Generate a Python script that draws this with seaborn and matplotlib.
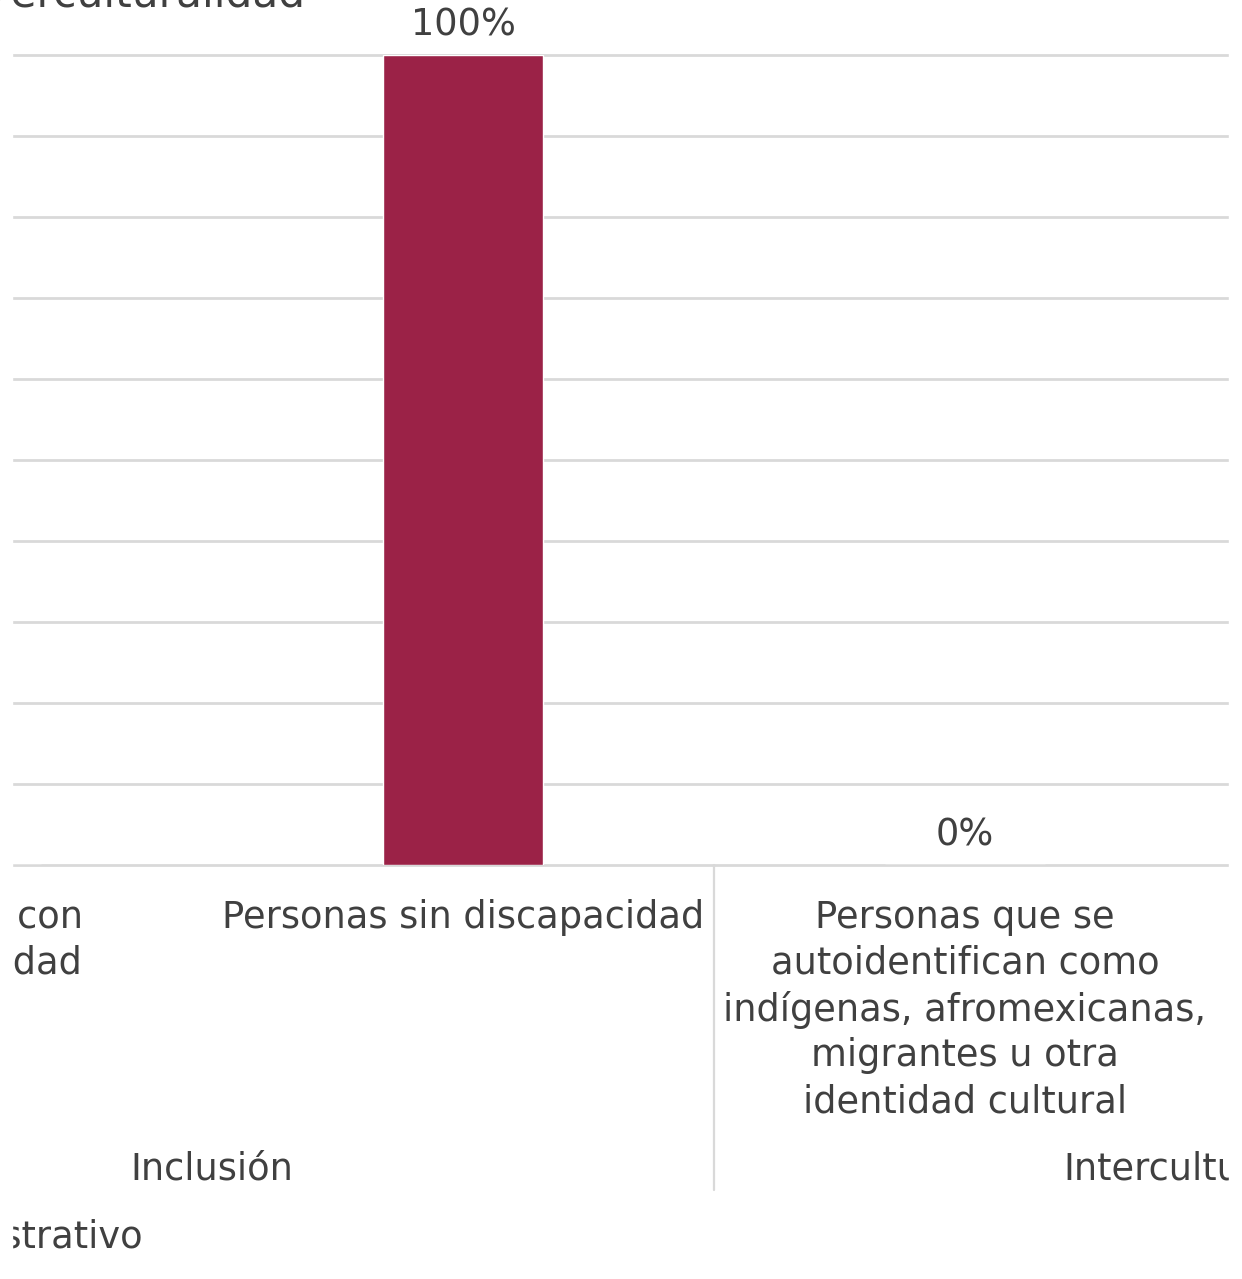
import numpy as np
import pandas as pd
import matplotlib
matplotlib.use("Agg")
import matplotlib.pyplot as plt
from matplotlib.patches import Rectangle
import seaborn as sns

# data
categories = ["Personas con discapacidad", "Personas sin discapacidad",
              "Personas que se autoidentifican", "Personas que no se autoidentifican"]
cat_labels = ["Personas con\ndiscapacidad",
              "Personas sin discapacidad",
              "Personas que se\nautoidentifican como\nindígenas, afromexicanas,\nmigrantes u otra\nidentidad cultural",
              "Personas que no se\nautoidentifican como\nindígenas,\nafromexicanas,\nmigrantes u otra\nidentidad cultural"]
values = [0, 100, 0, 100]
groups = ["Inclusión", "Interculturalidad"]
group_pos = [0.5, 2.5]
title = "Inclusión e interculturalidad"
outer_label = "Administrativo"

BAR = "#9b2247"
TXT = "#404040"
GRID = "#d9d9d9"

sns.set_style("white")
plt.rcParams["font.family"] = ["DejaVu Sans"]

W, H = 1242, 1279
fig = plt.figure(figsize=(W / 100, H / 100), dpi=100)
ax = fig.add_axes([12 / W, (H - 865) / H, (1229 - 12) / W, 810 / H])

df = pd.DataFrame({"cat": categories, "val": values})
sns.barplot(data=df, x="cat", y="val", order=categories, color=BAR,
            saturation=1, width=0.32, ax=ax)

ax.set_xlim(1 - 451 / 502, 1 + 766 / 502)
ax.set_ylim(0, 100)
ax.set_yticks(np.arange(0, 101, 10))
ax.yaxis.grid(True, color=GRID, lw=2)
for gl in ax.get_ygridlines():
    gl.set_clip_on(False)
ax.set_axisbelow(True)
ax.tick_params(left=False, bottom=False, labelleft=False, labelbottom=False)
ax.set_xlabel("")
ax.set_ylabel("")
for s in ax.spines.values():
    s.set_visible(False)

fs = 26.5
ax.bar_label(ax.containers[0], labels=[f"{v:.0f}%" for v in values],
             padding=8, fontsize=fs, color=TXT)

xt = ax.get_xaxis_transform()
for i, lab in enumerate(cat_labels):
    ax.annotate(lab, xy=(i, 0), xycoords=xt, xytext=(0, -34),
                textcoords="offset pixels", ha="center", va="top",
                fontsize=fs, color=TXT, annotation_clip=False,
                multialignment="center", linespacing=1.3)

for g, p in zip(groups, group_pos):
    ax.annotate(g, xy=(p, 0), xycoords=xt, xytext=(0, -304),
                textcoords="offset pixels", ha="center", va="center",
                fontsize=fs, color=TXT, annotation_clip=False)

ax.plot([1.5, 1.5], [0, -325 / 810], transform=xt, color=GRID, lw=1.6,
        clip_on=False)

ax.annotate(outer_label, xy=(1 - 320 / 502, 0), xycoords=xt, xytext=(0, -372),
            textcoords="offset pixels", ha="right", va="center",
            fontsize=fs, color=TXT, annotation_clip=False)

ax.annotate(title, xy=(1 - 158 / 502, 1), xycoords=xt, xytext=(0, 48),
            textcoords="offset pixels", ha="right", va="baseline",
            fontsize=fs * 1.15, color=TXT, annotation_clip=False)

# crop margins like the reference
fig.add_artist(Rectangle((0, 0), 12 / W, 1, transform=fig.transFigure,
                         color="white", zorder=10))
fig.add_artist(Rectangle((1229 / W, 0), 1 - 1229 / W, 1, transform=fig.transFigure,
                         color="white", zorder=10))

fig.savefig("out.png", dpi=100, facecolor="white")
